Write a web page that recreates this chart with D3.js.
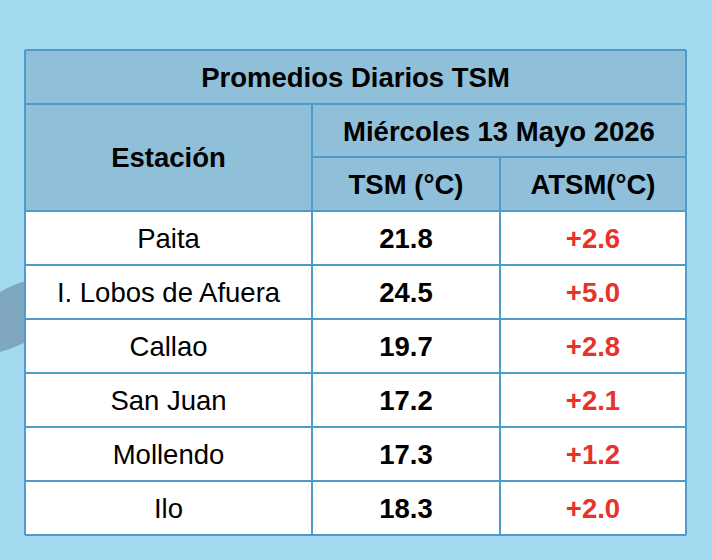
<!DOCTYPE html>
<html><head><meta charset="utf-8">
<script src="https://cdn.jsdelivr.net/npm/d3@7"></script>
<style>body{margin:0;background:#a3daf0}</style>
</head><body><div id="chart"></div>
<script>
const stations = ['Paita', 'I. Lobos de Afuera', 'Callao', 'San Juan', 'Mollendo', 'Ilo'];
const tsm = ['21.8', '24.5', '19.7', '17.2', '17.3', '18.3'];
const atsm = ['+2.6', '+5.0', '+2.8', '+2.1', '+1.2', '+2.0'];

const W = 712, H = 560;
const colX = [25, 312, 500, 686];
const rowY = [50, 104, 157, 211];
const rowH = 54;

const svg = d3.select('#chart').append('svg').attr('width', W).attr('height', H);

// background shapes
svg.append('rect').attr('width', W).attr('height', H).attr('fill', '#a3daf0');
svg.append('path').attr('d', 'M0,292 C10,286 20,282 30,280 L30,340 C20,345 8,350 0,352 Z').attr('fill', '#7fa7bf');

const y = d3.scaleBand().domain(stations).range([rowY[3], rowY[3] + rowH * stations.length]);
const hdr = '#8fbfd9', line = '#4f9cc8';
const g = svg.append('g');

g.append('rect').attr('x', colX[0]).attr('y', rowY[0]).attr('width', colX[3] - colX[0]).attr('height', rowY[3] - rowY[0]).attr('fill', hdr);
g.selectAll('rect.row').data(stations).enter().append('rect')
    .attr('class', 'row').attr('x', colX[0]).attr('y', d => y(d))
    .attr('width', colX[3] - colX[0]).attr('height', y.bandwidth()).attr('fill', '#fff');

const L = (x1, y1, x2, y2) => g.append('line').attr('x1', x1).attr('y1', y1).attr('x2', x2).attr('y2', y2)
    .attr('stroke', line).attr('stroke-width', 2);
L(colX[0], rowY[0], colX[3], rowY[0]);
L(colX[0], rowY[1], colX[3], rowY[1]);
L(colX[1], rowY[2], colX[3], rowY[2]);
stations.forEach(s => L(colX[0], y(s), colX[3], y(s)));
L(colX[0], y.range()[1], colX[3], y.range()[1]);
L(colX[0], rowY[0], colX[0], y.range()[1]);
L(colX[3], rowY[0], colX[3], y.range()[1]);
L(colX[1], rowY[1], colX[1], y.range()[1]);
L(colX[2], rowY[2], colX[2], y.range()[1]);

const T = (x, yy, s, bold, fill) => g.append('text').attr('x', x).attr('y', yy).text(s)
    .attr('text-anchor', 'middle').attr('dominant-baseline', 'central')
    .attr('font-family', 'Liberation Sans, Arial, sans-serif').attr('font-size', 27.5)
    .attr('font-weight', bold ? 'bold' : 'normal').attr('fill', fill || '#000');

T((colX[0] + colX[3]) / 2, 77, 'Promedios Diarios TSM', true);
T((colX[0] + colX[1]) / 2, 157, 'Estación', true);
T((colX[1] + colX[3]) / 2, 131, 'Miércoles 13 Mayo 2026', true);
T((colX[1] + colX[2]) / 2, 184, 'TSM (°C)', true);
T((colX[2] + colX[3]) / 2, 184, 'ATSM(°C)', true);

stations.forEach((s, i) => {
    const cy = y(s) + y.bandwidth() / 2;
    T((colX[0] + colX[1]) / 2, cy, s, false);
    T((colX[1] + colX[2]) / 2, cy, tsm[i], true);
    T((colX[2] + colX[3]) / 2, cy, atsm[i], true, '#e8322a');
});
</script></body></html>
